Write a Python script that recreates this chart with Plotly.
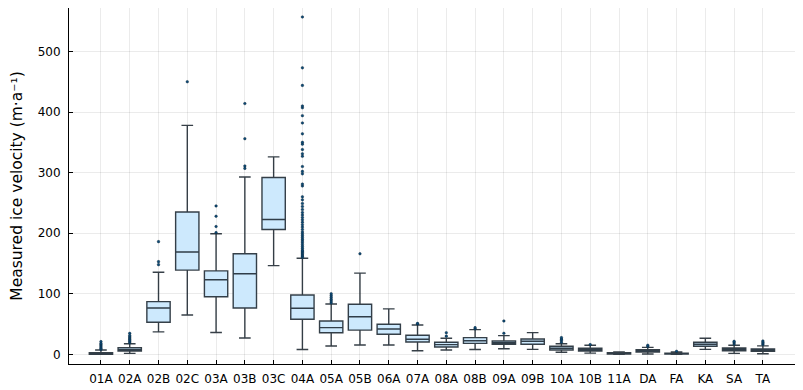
import plotly.graph_objects as go

glaciers = ['01A', '02A', '02B', '02C', '03A', '03B', '03C', '04A', '05A', '05B', '06A', '07A',
            '08A', '08B', '09A', '09B', '10A', '10B', '11A', 'DA', 'FA', 'KA', 'SA', 'TA']

lower = [0, 1.6, 37, 65, 36, 27, 146.5, 8, 13.7, 15.4, 15.4, 6, 7, 8, 9.3, 8.2, 3.3, 2, 0, 0.5, 0, 8.2, 1.6, 1]
q1 = [0, 5.5, 53, 139, 95, 76.5, 206, 58, 35.7, 40, 33, 20.3, 12, 18, 16.5, 16.5, 7, 5.5, 0.5, 3.8, 0.3, 13.2, 6, 5]
median = [1, 8, 76.5, 169, 123, 133, 222.5, 76, 44, 62, 41.8, 24.8, 16, 22.5, 19, 21.5, 10, 8, 1.5, 5.5, 1, 16.5, 8, 7]
q3 = [2.6, 11, 87, 235, 137.7, 166, 292, 98, 55, 82.6, 49.6, 31.4, 19.8, 27.5, 22, 25.3, 13.2, 10, 2.5, 7.6, 2, 19.8, 10.4, 9]
upper = [7, 17.5, 135.5, 378, 199, 292.7, 326, 158.7, 83, 134, 75, 48.4, 26.4, 40.7, 30.8, 35.8, 17.5, 15, 4, 11.5, 4, 26.4, 14.9, 14]

outliers = [
    [8, 10, 12, 14, 16, 18, 21],
    [19, 21, 23, 25, 27, 29, 31, 34.6],
    [148, 153, 186],
    [450],
    [201, 211, 228, 245],
    [307, 311, 356, 414],
    [],
    [160, 162, 164, 166, 168, 170, 172, 175, 178, 181, 184, 187, 190, 193, 196, 199, 202, 206,
     210, 214, 218, 222, 226, 230, 234, 239, 244, 249, 255, 260, 278, 281, 298, 302, 310, 327,
     331, 338, 347, 350, 364, 382, 394, 407, 410, 444, 473, 557],
    [85, 88, 91, 94, 97, 100],
    [166],
    [],
    [50, 51],
    [30, 35.7],
    [42, 44],
    [34.7, 55],
    [],
    [20, 23, 25, 27.5],
    [16],
    [],
    [13, 15],
    [5],
    [],
    [17, 19.5, 21.5],
    [16, 18, 20, 22],
]

y_ticks = [0, 100, 200, 300, 400, 500]

out_x = [g for g, vals in zip(glaciers, outliers) for _ in vals]
out_y = [v for vals in outliers for v in vals]

fig = go.Figure()
fig.add_trace(go.Box(
    x=glaciers, q1=q1, median=median, q3=q3, lowerfence=lower, upperfence=upper,
    fillcolor='#cde9fd', line=dict(color='rgba(20,30,40,0.85)', width=1.4),
    width=0.81, whiskerwidth=0.5, boxpoints=False, showlegend=False,
))
fig.add_trace(go.Scatter(
    x=out_x, y=out_y, mode='markers',
    marker=dict(size=2.6, color='#0b4a78', line=dict(width=0.4, color='#0a2030')),
    showlegend=False,
))

# page body has an 8px margin, so the figure is sized to fit inside the window
fig.update_layout(
    width=795, height=382,
    margin=dict(l=61, r=7, t=0, b=26, autoexpand=False),
    paper_bgcolor='white', plot_bgcolor='white',
    font=dict(family='DejaVu Sans', size=11, color='black'),
)
fig.update_xaxes(
    type='category', categoryorder='array', categoryarray=glaciers,
    range=[-1.11, 24.15], automargin=False,
    showgrid=True, gridcolor='rgba(0,0,0,0.08)', gridwidth=1,
    showline=True, linecolor='black', linewidth=1,
    ticks='inside', ticklen=4, tickcolor='black',
    tickfont=dict(size=12), ticklabelstandoff=4,
)
fig.update_yaxes(
    range=[-16, 571.8], tickvals=y_ticks, automargin=False,
    showgrid=True, gridcolor='rgba(0,0,0,0.08)', gridwidth=1,
    zeroline=False,
    showline=True, linecolor='black', linewidth=1,
    ticks='inside', ticklen=4, tickcolor='black',
    tickfont=dict(size=12), ticklabelstandoff=5,
    title=dict(text='Measured ice velocity (m·a⁻¹)', font=dict(size=15.5), standoff=22),
)

fig.write_html('out.html')
